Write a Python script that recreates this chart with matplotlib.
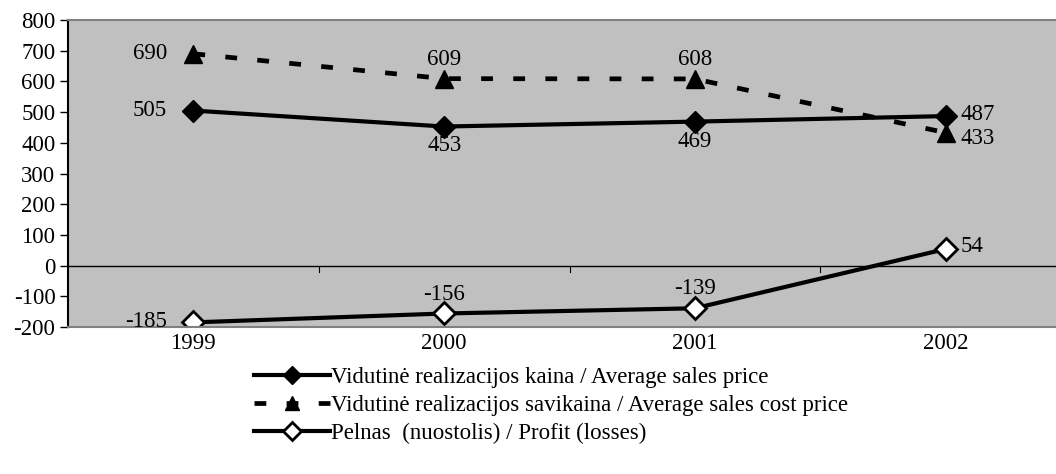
import numpy as np
import matplotlib

matplotlib.use('Agg')
import matplotlib.pyplot as plt

years = ['1999', '2000', '2001', '2002']
sales_price = [505, 453, 469, 487]
cost_price = [690, 609, 608, 433]
profit = [-185, -156, -139, 54]

plt.rcParams['font.family'] = ['Liberation Serif', 'DejaVu Serif']
plt.rcParams['axes.unicode_minus'] = False

fig = plt.figure(figsize=(10.56, 4.74), dpi=100)
# plot area runs past the right edge of the picture, as in the original
ax = fig.add_axes([68 / 1056, 1 - 327 / 474, 1003 / 1056, 307 / 474])
ax.set_facecolor('#c0c0c0')

x = np.arange(len(years))

l1, = ax.plot(x, sales_price, color='black', lw=3, marker='D', ms=11,
              mfc='black', mec='black')
l2, = ax.plot(x, cost_price, color='black', lw=3.4, marker='^', ms=13,
              mfc='black', mec='black', dashes=(2.5, 4.3))
l3, = ax.plot(x, profit, color='black', lw=3, marker='D', ms=11,
              mfc='white', mec='black', mew=2)

# value labels: (dx, dy, ha) in points
fs = 16.5
pos1 = [(-19, 0, 'right'), (0, -14, 'center'), (0, -14, 'center'), (11, 1, 'left')]
pos2 = [(-19, 0, 'right'), (0, 14, 'center'), (0, 14, 'center'), (11, -4, 'left')]
pos3 = [(-19, 1, 'right'), (0, 14, 'center'), (0, 14, 'center'), (11, 2, 'left')]

for series, pos in [(sales_price, pos1), (cost_price, pos2), (profit, pos3)]:
    for i in range(len(years)):
        dx, dy, ha = pos[i]
        ax.annotate(str(series[i]), (x[i], series[i]), xytext=(dx, dy),
                    textcoords='offset points', ha=ha, va='center', fontsize=fs)

ax.set_xlim(-0.5, 3.5)
ax.set_ylim(-200, 800)
ax.set_yticks(np.arange(-200, 801, 100))
ax.tick_params(axis='y', labelsize=fs, direction='out', length=6, width=1, pad=3)

# x axis drawn at zero, category labels below the plot
ax.axhline(0, color='black', lw=1)
ax.set_xticks([])
for b in [0.5, 1.5, 2.5]:
    ax.plot([b, b], [0, -20], color='black', lw=0.8)
for i, yr in enumerate(years):
    ax.annotate(yr, (x[i], -200), xytext=(0, -12), textcoords='offset points',
                ha='center', va='center', fontsize=fs, annotation_clip=False)

ax.spines['left'].set_color('black')
ax.spines['top'].set_color('#808080')
ax.spines['bottom'].set_color('#808080')
ax.spines['right'].set_color('#808080')
for s in ax.spines.values():
    s.set_linewidth(1.5)

fig.legend([l1, l2, l3],
           ['Vidutinė realizacijos kaina / Average sales price',
            'Vidutinė realizacijos savikaina / Average sales cost price',
            'Pelnas  (nuostolis) / Profit (losses)'],
           loc='upper left', bbox_to_anchor=(254 / 1056, 1 - 367 / 474),
           frameon=False, fontsize=fs, handlelength=3.3, handletextpad=0.05,
           labelspacing=0.3, borderaxespad=0, borderpad=0, markerscale=0.8)

plt.savefig('out.png', dpi=100)
